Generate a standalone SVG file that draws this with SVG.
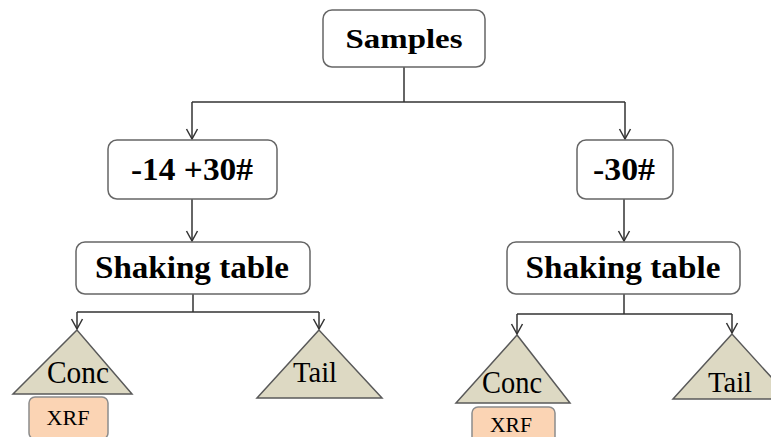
<svg xmlns="http://www.w3.org/2000/svg" width="771" height="437" viewBox="0 0 771 437">
<style>
.box{fill:#fff;stroke:#666;stroke-width:1.5}
.tri{fill:#DDD9C3;stroke:#595959;stroke-width:1.5}
.xrf{fill:#FBD4B4;stroke:#8c8c8c;stroke-width:1.5}
.b{font-family:"Liberation Serif","Times New Roman",serif;font-weight:bold;fill:#000;text-anchor:middle}
.r{font-family:"Liberation Serif","Times New Roman",serif;fill:#000;text-anchor:middle}
.ln{fill:none;stroke:#333;stroke-width:1.5}
</style>
<defs>
<marker id="ar" markerWidth="14" markerHeight="14" refX="11" refY="7" orient="auto" markerUnits="userSpaceOnUse">
<path d="M1,1.5 L11,7 L1,12.5" fill="none" stroke="#333" stroke-width="1.5"/>
</marker>
</defs>
<g id="connectors">
<path class="ln" d="M404,67 V102"/>
<path class="ln" d="M192,102 H625"/>
<path class="ln" d="M192,102 V139" marker-end="url(#ar)"/>
<path class="ln" d="M625,102 V139" marker-end="url(#ar)"/>
<path class="ln" d="M192,199 V241" marker-end="url(#ar)"/>
<path class="ln" d="M624,199 V241" marker-end="url(#ar)"/>
<path class="ln" d="M193,294 V312 M77,312 H319"/>
<path class="ln" d="M77,312 V329" marker-end="url(#ar)"/>
<path class="ln" d="M319,312 V329" marker-end="url(#ar)"/>
<path class="ln" d="M624,294 V314 M517,314 H732"/>
<path class="ln" d="M517,314 V334" marker-end="url(#ar)"/>
<path class="ln" d="M732,314 V333" marker-end="url(#ar)"/>
</g>
<g id="samples">
<rect class="box" x="323" y="10" width="162" height="57" rx="9"/>
<text class="b" x="404" y="48" font-size="28" textLength="117" lengthAdjust="spacingAndGlyphs">Samples</text>
</g>
<g id="size1">
<rect class="box" x="108" y="140" width="169" height="59" rx="9"/>
<text class="b" x="192" y="180" font-size="31" textLength="122" lengthAdjust="spacingAndGlyphs">-14 +30#</text>
</g>
<g id="size2">
<rect class="box" x="577" y="140" width="96" height="59" rx="9"/>
<text class="b" x="624" y="180" font-size="31" textLength="62" lengthAdjust="spacingAndGlyphs">-30#</text>
</g>
<g id="shake1">
<rect class="box" x="76" y="242" width="234" height="52" rx="9"/>
<text class="b" x="192" y="278" font-size="32" textLength="194" lengthAdjust="spacingAndGlyphs">Shaking table</text>
</g>
<g id="shake2">
<rect class="box" x="507" y="242" width="233" height="52" rx="9"/>
<text class="b" x="623" y="278" font-size="32" textLength="195" lengthAdjust="spacingAndGlyphs">Shaking table</text>
</g>
<g id="conc1">
<polygon class="tri" points="77,330 13,394 132,394"/>
<text class="r" x="78" y="383" font-size="31" textLength="62" lengthAdjust="spacingAndGlyphs">Conc</text>
</g>
<g id="xrf1">
<rect class="xrf" x="29" y="397" width="79" height="42" rx="6"/>
<text class="r" x="68" y="425" font-size="22" textLength="43" lengthAdjust="spacingAndGlyphs">XRF</text>
</g>
<g id="tail1">
<polygon class="tri" points="319,330 257,398 382,398"/>
<text class="r" x="315" y="382" font-size="30" textLength="44" lengthAdjust="spacingAndGlyphs">Tail</text>
</g>
<g id="conc2">
<polygon class="tri" points="517,335 456,403 570,403"/>
<text class="r" x="512" y="393" font-size="31" textLength="60" lengthAdjust="spacingAndGlyphs">Conc</text>
</g>
<g id="xrf2">
<rect class="xrf" x="472" y="407" width="83" height="36" rx="6"/>
<text class="r" x="511" y="432" font-size="22" textLength="42" lengthAdjust="spacingAndGlyphs">XRF</text>
</g>
<g id="tail2">
<polygon class="tri" points="732,334 673,399 791,399"/>
<text class="r" x="730" y="392" font-size="30" textLength="44" lengthAdjust="spacingAndGlyphs">Tail</text>
</g>
</svg>
